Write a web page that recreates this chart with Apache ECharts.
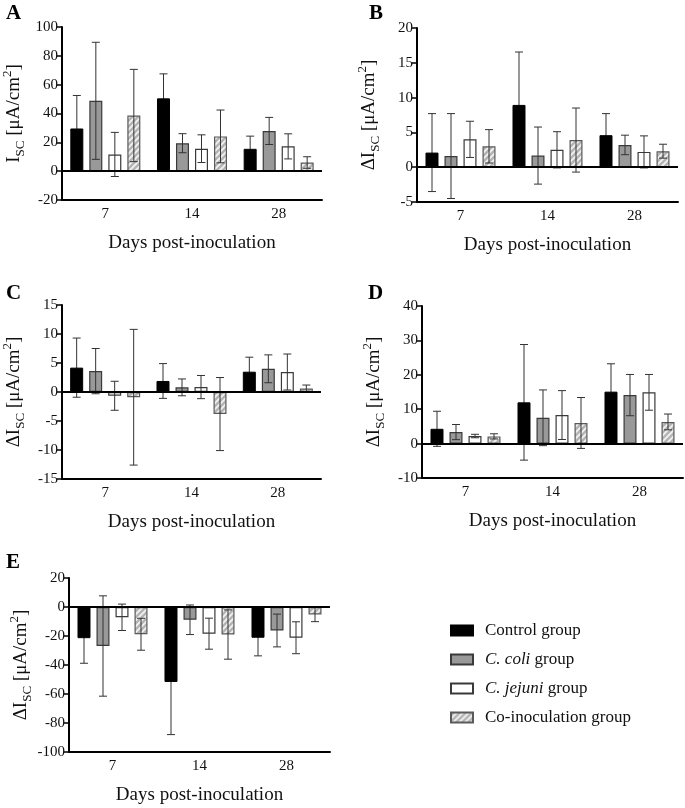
<!DOCTYPE html>
<html>
<head>
<meta charset="utf-8">
<script src="https://cdn.jsdelivr.net/npm/echarts@6/dist/echarts.min.js"></script>
<style>
html,body{margin:0;padding:0;background:#fff;}
#chart{width:685px;height:808px;}
</style>
</head>
<body>
<div id="chart"></div>
<script>
// ---- data ----
const days = ['7', '14', '28'];
const groups = ['Control group', 'C. coli group', 'C. jejuni group', 'Co-inoculation group'];

// Panel A (Isc)
const A_mean = [[29.6, 50.5, 15.5], [48.8, 19.4, 27.9], [11.6, 15.6, 17.2], [38.6, 24.1, 6.0]];
const A_sd   = [[22.9, 17.0, 8.8], [40.6, 6.6, 9.4], [15.3, 9.6, 8.7], [32.0, 18.3, 4.0]];
// Panel B
const B_mean = [[2.1, 8.95, 4.6], [1.6, 1.67, 3.2], [4.0, 2.5, 2.2], [3.0, 3.9, 2.3]];
const B_sd   = [[5.6, 7.6, 3.1], [6.1, 4.1, 1.4], [2.6, 2.6, 2.3], [2.4, 4.6, 1.0]];
// Panel C
const C_mean = [[4.2, 1.9, 3.5], [3.6, 0.8, 4.0], [-0.65, 0.85, 3.45], [-0.9, -3.8, 0.6]];
const C_sd   = [[5.1, 3.0, 2.5], [3.9, 1.45, 2.4], [2.5, 2.0, 3.1], [11.7, 6.3, 0.6]];
// Panel D
const D_mean = [[4.3, 12.0, 15.1], [3.35, 7.5, 14.1], [2.2, 8.3, 14.9], [2.1, 6.0, 6.3]];
const D_sd   = [[5.1, 16.8, 8.1], [2.2, 8.1, 6.0], [0.5, 7.1, 5.2], [0.75, 7.4, 2.3]];
// Panel E
const E_mean = [[-21.5, -51.7, -21.2], [-26.9, -8.8, -16.2], [-7.1, -18.4, -21.2], [-18.8, -19.0, -5.1]];
const E_sd   = [[17.3, 36.3, 12.5], [34.6, 10.2, 11.3], [9.1, 10.7, 11.0], [11.0, 17.0, 5.0]];

// axis ranges (min, max, interval)
const A_axis = [-20, 100, 20];
const B_axis = [-5, 20, 5];
const C_axis = [-15, 15, 5];
const D_axis = [-10, 40, 10];
const E_axis = [-100, 20, 20];

// ---- layout/styles ----
const FONT = '"Liberation Serif", "Times New Roman", serif';
const BAR_W = 13, BAR_GAP = 6;

// hatch pattern "/" for co-inoculation bars
function makeHatch() {
  const s = 6;
  const c = document.createElement('canvas');
  c.width = s; c.height = s;
  const ctx = c.getContext('2d');
  ctx.fillStyle = '#b4b4b4';
  ctx.fillRect(0, 0, s, s);
  ctx.strokeStyle = '#f2f2f2';
  ctx.lineWidth = 1.8;
  ctx.beginPath();
  ctx.moveTo(-1, s + 1); ctx.lineTo(s + 1, -1);
  ctx.moveTo(-1, 1); ctx.lineTo(1, -1);
  ctx.moveTo(s - 1, s + 1); ctx.lineTo(s + 1, s - 1);
  ctx.stroke();
  return c;
}
const hatch = makeHatch();

const panels = [
  {id: 'A', mean: A_mean, sd: A_sd, axis: A_axis, delta: false, grid: {left: 61, top: 27, width: 261, height: 173}, letter: [6, 3]},
  {id: 'B', mean: B_mean, sd: B_sd, axis: B_axis, delta: true, grid: {left: 417, top: 28, width: 261, height: 174}, letter: [369, 3]},
  {id: 'C', mean: C_mean, sd: C_sd, axis: C_axis, delta: true, grid: {left: 60, top: 305, width: 261, height: 174}, letter: [6, 283]},
  {id: 'D', mean: D_mean, sd: D_sd, axis: D_axis, delta: true, grid: {left: 422, top: 306, width: 261, height: 172}, letter: [368, 283]},
  {id: 'E', mean: E_mean, sd: E_sd, axis: E_axis, delta: true, grid: {left: 69, top: 578, width: 261, height: 174}, letter: [6, 552]}
];

const barStyles = [
  {color: '#000000', borderColor: '#000000', borderWidth: 1},
  {color: '#999999', borderColor: '#3a3a3a', borderWidth: 1.2},
  {color: '#ffffff', borderColor: '#3a3a3a', borderWidth: 1.2},
  {color: {image: hatch, repeat: 'repeat'}, borderColor: '#5a5a5a', borderWidth: 1.2}
];

const grids = [], xAxes = [], yAxes = [], series = [], graphics = [];

function errRender(params, api) {
  const cat = api.value(0), gi = api.value(1);
  const pLo = api.coord([cat, api.value(2)]);
  const pHi = api.coord([cat, api.value(3)]);
  const x = pHi[0] + (gi - 1.5) * (BAR_W + BAR_GAP);
  const hw = 4;
  const st = {stroke: '#333', lineWidth: 1};
  return {type: 'group', children: [
    {type: 'line', shape: {x1: x, y1: pHi[1], x2: x, y2: pLo[1]}, style: st},
    {type: 'line', shape: {x1: x - hw, y1: pHi[1], x2: x + hw, y2: pHi[1]}, style: st},
    {type: 'line', shape: {x1: x - hw, y1: pLo[1], x2: x + hw, y2: pLo[1]}, style: st}
  ]};
}

panels.forEach((p, pi) => {
  grids.push(p.grid);
  xAxes.push({
    type: 'category', gridIndex: pi, data: days,
    name: 'Days post-inoculation', nameLocation: 'middle', nameGap: 34,
    nameTextStyle: {fontFamily: FONT, fontSize: 19, color: '#111'},
    axisLine: {onZero: false, lineStyle: {color: '#000', width: 2}},
    axisTick: {alignWithLabel: true, length: 6, lineStyle: {color: '#000', width: 2}},
    axisLabel: {fontFamily: FONT, fontSize: 15, color: '#111', margin: 7}
  });
  const pre = p.delta ? 'ΔI' : 'I';
  yAxes.push({
    type: 'value', gridIndex: pi, min: p.axis[0], max: p.axis[1], interval: p.axis[2],
    name: '{n|' + pre + '}{s|SC}{n| [μA/cm}{p|2}{n|]}',
    nameLocation: 'middle', nameGap: 35, nameRotate: 90,
    nameTextStyle: {
      fontFamily: FONT, fontSize: 19, color: '#111',
      rich: {
        n: {fontFamily: FONT, fontSize: 19, color: '#111', lineHeight: 26, verticalAlign: 'middle'},
        s: {fontFamily: FONT, fontSize: 13, color: '#111', lineHeight: 26, verticalAlign: 'bottom'},
        p: {fontFamily: FONT, fontSize: 13, color: '#111', lineHeight: 26, verticalAlign: 'top'}
      }
    },
    splitLine: {show: false},
    axisLine: {show: true, lineStyle: {color: '#000', width: 2}},
    axisTick: {show: true, length: 5, lineStyle: {color: '#000', width: 1.5}},
    axisLabel: {fontFamily: FONT, fontSize: 15, color: '#111', margin: 4}
  });
  groups.forEach((g, gi) => {
    const s = {
      type: 'bar', name: g, xAxisIndex: pi, yAxisIndex: pi,
      data: p.mean[gi], barWidth: BAR_W, barGap: (BAR_GAP / BAR_W * 100).toFixed(1) + '%',
      itemStyle: barStyles[gi], emphasis: {disabled: true}, z: 2
    };
    if (gi === 0) {
      s.markLine = {
        silent: true, symbol: 'none', label: {show: false},
        lineStyle: {color: '#000', width: 2, type: 'solid'},
        data: [{yAxis: 0}], z: 5
      };
    }
    series.push(s);
  });
  // error bars: control group drawn beneath its (black) bars, others on top
  const errBelow = [], errAbove = [];
  groups.forEach((g, gi) => {
    p.mean[gi].forEach((m, di) => {
      const item = [di, gi, m - p.sd[gi][di], m + p.sd[gi][di]];
      (gi === 0 ? errBelow : errAbove).push(item);
    });
  });
  [[errBelow, 1], [errAbove, 4]].forEach(([d, z]) => {
    series.push({
      type: 'custom', xAxisIndex: pi, yAxisIndex: pi, z: z, silent: true,
      encode: {x: 0, y: [2, 3]}, data: d, renderItem: errRender
    });
  });
  graphics.push({
    type: 'text', left: p.letter[0], top: p.letter[1],
    style: {text: p.id, font: 'bold 21px ' + FONT, fill: '#000'}
  });
});

const chart = echarts.init(document.getElementById('chart'), null, {renderer: 'canvas'});
chart.setOption({
  animation: false,
  backgroundColor: '#fff',
  grid: grids,
  xAxis: xAxes,
  yAxis: yAxes,
  series: series,
  graphic: graphics,
  legend: {
    data: groups, orient: 'vertical', left: 450, top: 622, padding: 0,
    icon: 'rect', itemWidth: 22, itemHeight: 10, itemGap: 12,
    selectedMode: false,
    textStyle: {
      fontFamily: FONT, fontSize: 17, color: '#111', padding: [0, 0, 0, 7],
      rich: {
        i: {fontFamily: FONT, fontSize: 17, color: '#111', fontStyle: 'italic'},
        r: {fontFamily: FONT, fontSize: 17, color: '#111'}
      }
    },
    formatter: function (name) {
      if (name.indexOf('C. ') === 0) {
        const sp = name.lastIndexOf(' ');
        return '{i|' + name.slice(0, sp) + '}{r|' + name.slice(sp) + '}';
      }
      return '{r|' + name + '}';
    }
  }
});
</script>
</body>
</html>
